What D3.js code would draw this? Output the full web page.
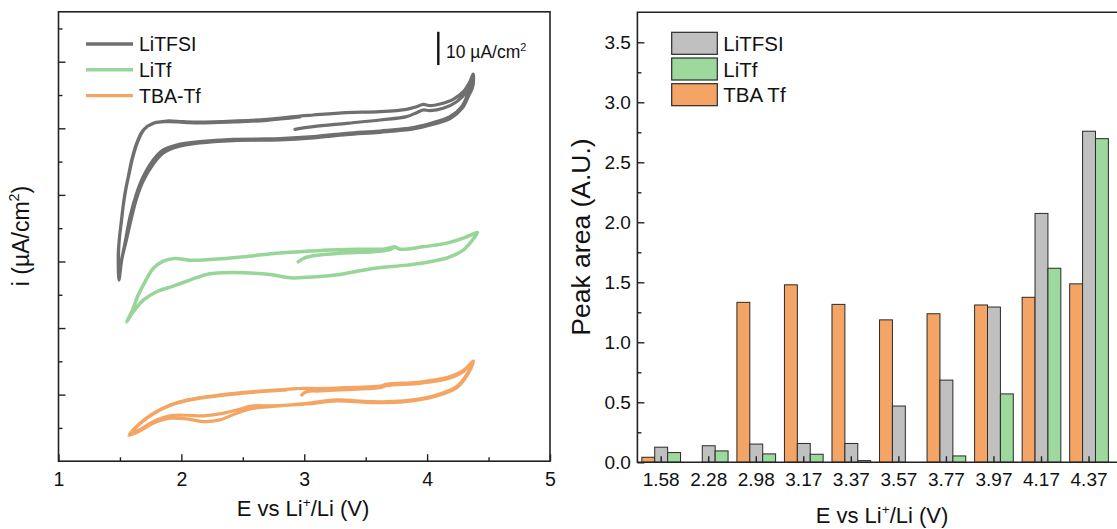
<!DOCTYPE html>
<html>
<head>
<meta charset="utf-8">
<script src="https://d3js.org/d3.v7.min.js"></script>
<style>
  body { margin: 0; background: #fff; }
  text { font-family: Arial, "Liberation Sans", sans-serif; fill: #111; }
</style>
</head>
<body>
<div id="chart-area"></div>
<script>
// ---------- data: cyclic voltammograms (E in V, i in uA/cm2, curves offset) ----------
const cvNames = ["LiTFSI", "LiTf", "TBA-Tf"]

const cvLiTFSI = [
  [2.924,99.7],[3.073,100.5],[3.345,101.5],[3.616,102.5],[3.833,103.5],[3.915,104.7],[3.968,105.5],[4.023,105.3],
  [4.131,106.0],[4.240,108.0],[4.321,111.0],[4.362,114.0],[4.378,115.5],
  [4.369,113.3],[4.334,110.5],[4.281,106.5],[4.186,103.5],[4.050,101.7],[3.887,100.2],[3.616,99.2],[3.345,98.5],
  [3.073,97.5],[2.802,96.9],[2.694,96.8],[2.422,96.7],[2.151,96.0],[1.962,95.0],[1.853,93.5],[1.771,90.5],
  [1.690,85.5],[1.636,80.5],[1.582,73.4],[1.541,65.5],[1.514,60.4],[1.492,54.4],
  [1.486,59.8],[1.487,62.9],[1.492,65.5],[1.506,70.4],[1.522,75.5],[1.541,80.5],[1.568,85.5],[1.596,90.5],
  [1.636,95.5],[1.690,99.5],[1.771,101.5],[1.880,102.2],[2.015,102.0],[2.151,101.9],[2.422,102.2],[2.694,102.7],
  [2.965,103.7],[3.073,104.0],[3.345,104.7],[3.616,105.0],[3.833,105.7],[3.915,106.5],[3.968,107.2],[4.023,106.8],
  [4.104,107.3],[4.212,108.7],[4.294,111.0],[4.348,114.0],[4.375,116.3],
  [4.372,112.6],[4.338,109.8],[4.285,106.0],[4.190,103.0],[4.050,101.2],[3.887,99.8],[3.616,98.8],[3.345,98.1],
  [3.073,97.1],[2.802,96.5],[2.422,96.3],[2.151,95.6],[1.962,94.4],[1.853,92.6],[1.771,89.3],[1.690,84.2],
  [1.636,79.0],[1.590,72.5],[1.550,66.0],[1.520,61.5],[1.497,57.0],[1.489,60.5],
  [1.490,64.0],[1.497,67.5],[1.512,72.0],[1.528,77.0],[1.548,81.6],[1.575,86.4],[1.604,91.2],[1.645,96.0],
  [1.700,99.8],[1.780,101.6],[1.880,102.0],[2.015,101.8],[2.151,101.6],[2.422,101.9],[2.694,102.4],[2.965,103.4]
]

const cvLiTf = [
  [2.951,59.9],[2.992,60.9],[3.073,61.7],[3.290,62.5],[3.561,62.9],[3.697,63.6],[3.738,64.3],[3.779,63.7],
  [3.968,64.4],[4.159,65.5],[4.294,67.0],[4.389,68.5],[4.409,68.7],
  [4.389,67.4],[4.348,65.5],[4.294,63.4],[4.186,61.4],[4.023,59.9],[3.833,58.9],[3.561,57.9],[3.290,56.1],
  [3.101,55.4],[2.884,55.1],[2.721,56.1],[2.504,56.6],[2.341,56.6],[2.206,56.1],[2.070,54.4],[1.934,52.6],
  [1.799,50.9],[1.690,48.4],[1.609,44.9],[1.555,41.9],
  [1.596,44.9],[1.649,49.9],[1.704,53.9],[1.771,57.9],[1.853,60.1],[1.948,60.9],[2.070,60.4],[2.233,60.6],
  [2.504,61.4],[2.775,62.5],[2.965,62.9],[3.155,63.4],[3.426,63.7],[3.643,63.7],[3.697,64.1],[3.738,64.4],
  [3.779,63.7],[3.968,64.4],[4.159,65.5],[4.294,67.0],[4.409,68.7]
]

const cvTBATf = [
  [2.979,19.9],[3.020,20.9],[3.128,21.1],[3.399,21.6],[3.616,22.1],[3.670,22.7],[3.941,23.4],[4.159,24.7],
  [4.294,26.9],[4.362,29.7],[4.377,30.1],
  [4.321,25.9],[4.240,22.4],[4.077,19.9],[3.806,18.1],[3.535,17.9],[3.264,18.4],[3.020,17.4],[2.721,16.4],
  [2.585,15.9],[2.450,14.4],[2.314,12.4],[2.178,11.9],[2.043,12.7],[1.907,12.9],[1.771,11.4],[1.663,9.1],[1.574,7.8],
  [1.663,11.4],[1.771,14.4],[1.907,16.9],[2.043,18.4],[2.314,19.9],[2.585,20.9],[2.857,21.6],[2.979,21.9],
  [3.128,21.8],[3.399,22.2],[3.616,22.6],[3.670,23.1],[3.941,23.8],[4.159,25.1],[4.294,27.2],[4.377,30.1],
  [4.323,25.6],[4.242,22.1],[4.077,19.6],[3.806,17.8],[3.535,17.6],[3.264,18.1],[3.020,17.2],[2.721,16.6],
  [2.585,16.6],[2.450,15.4],[2.314,14.2],[2.178,13.6],[2.043,13.8],[1.907,13.6],[1.771,11.9],[1.663,9.5],[1.578,8.0],
  [1.663,11.2],[1.771,14.2],[1.907,16.7],[2.043,18.2],[2.314,19.7],[2.585,20.7],[2.857,21.4]
]

// ---------- data: peak areas ----------
const categories = ["1.58", "2.28", "2.98", "3.17", "3.37", "3.57", "3.77", "3.97", "4.17", "4.37"]
const barSeries = ["TBA Tf", "LiTFSI", "LiTf"]
const tbaTf  = [0.042, 0, 1.333, 1.479, 1.316, 1.187, 1.238, 1.311, 1.375, 1.487]
const litfsi = [0.126, 0.138, 0.152, 0.157, 0.157, 0.469, 0.685, 1.294, 2.074, 2.759]
const litf   = [0.081, 0.095, 0.070, 0.067, 0.014, 0, 0.053, 0.570, 1.617, 2.697]
const legendOrder = ["LiTFSI", "LiTf", "TBA Tf"]

const cvColor = { "LiTFSI": "#6f6f6f", "LiTf": "#98d598", "TBA-Tf": "#f4a463" }
const barColor = { "LiTFSI": "#c0c0c0", "LiTf": "#9dd89d", "TBA Tf": "#f4a565" }

const FONT = 'Arial, "Liberation Sans", sans-serif'

const svg = d3.select("#chart-area").append("svg")
  .attr("width", 1117)
  .attr("height", 529)

// helper: text with a superscript piece
function supText(sel, before, sup, after, fs) {
  sel.append("tspan").text(before)
  sel.append("tspan").attr("font-size", fs * 0.62).attr("dy", -0.42 * fs).text(sup)
  if (after) sel.append("tspan").attr("dy", 0.42 * fs).text(after)
  return sel
}

function styleAxis(g, fs) {
  g.attr("font-size", fs).attr("font-family", FONT).attr("color", "#222")
  g.select(".domain").remove()
  g.selectAll(".tick line").attr("stroke-width", 1.4)
  g.selectAll(".tick text").attr("fill", "#111")
}

// ================= LEFT PANEL: CV =================
const L = { x0: 58.5, x1: 550, y0: 11.8, y1: 461.2 }

const xCV = d3.scaleLinear().domain([1, 5]).range([L.x0, L.x1])
const yCV = d3.scaleLinear().domain([0, 135]).range([L.y1, L.y0])

const left = svg.append("g")

// x axis major + minor
left.append("g")
  .attr("transform", `translate(0, ${L.y1})`)
  .call(d3.axisBottom(xCV).tickValues([1, 2, 3, 4, 5]).tickFormat(d3.format("d"))
    .tickSizeInner(-7).tickSizeOuter(0).tickPadding(11))
  .call(g => styleAxis(g, 19.5))
left.append("g")
  .attr("transform", `translate(0, ${L.y1})`)
  .call(d3.axisBottom(xCV).tickValues([1.5, 2.5, 3.5, 4.5]).tickFormat("")
    .tickSizeInner(-4).tickSizeOuter(0))
  .call(g => styleAxis(g, 19))

// y axis, no labels
left.append("g")
  .attr("transform", `translate(${L.x0}, 0)`)
  .call(d3.axisLeft(yCV).tickValues(d3.range(20, 121, 20)).tickFormat("")
    .tickSizeInner(-7).tickSizeOuter(0))
  .call(g => styleAxis(g, 19))
left.append("g")
  .attr("transform", `translate(${L.x0}, 0)`)
  .call(d3.axisLeft(yCV).tickValues(d3.range(10, 131, 20)).tickFormat("")
    .tickSizeInner(-4).tickSizeOuter(0))
  .call(g => styleAxis(g, 19))

// frame
left.append("rect")
  .attr("x", L.x0).attr("y", L.y0)
  .attr("width", L.x1 - L.x0).attr("height", L.y1 - L.y0)
  .attr("fill", "none").attr("stroke", "#222").attr("stroke-width", 1.6)

// curves
const cvLine = d3.line()
  .x(d => xCV(d[0]))
  .y(d => yCV(d[1]))
  .curve(d3.curveCatmullRom.alpha(0.5))

const cvData = [
  { name: "TBA-Tf", pts: cvTBATf, w: 3.2 },
  { name: "LiTf", pts: cvLiTf, w: 3.5 },
  { name: "LiTFSI", pts: cvLiTFSI, w: 3.2 }
]
left.selectAll("path.cv")
  .data(cvData)
  .enter().append("path")
    .attr("class", "cv")
    .attr("d", d => cvLine(d.pts))
    .attr("fill", "none")
    .attr("stroke", d => cvColor[d.name])
    .attr("stroke-width", d => d.w)
    .attr("stroke-linejoin", "round")
    .attr("stroke-linecap", "round")

// legend
const cvLeg = left.selectAll("g.cvleg")
  .data(cvNames)
  .enter().append("g")
    .attr("class", "cvleg")
    .attr("transform", (d, i) => `translate(86, ${44 + i * 25.8})`)
cvLeg.append("line")
  .attr("x1", 0).attr("x2", 47)
  .attr("stroke", d => cvColor[d]).attr("stroke-width", 3.4)
cvLeg.append("text")
  .attr("x", 53).attr("y", 7.4)
  .attr("font-size", 19.5)
  .text(d => d)

// scale bar 10 uA/cm2
left.append("line")
  .attr("x1", 438.3).attr("x2", 438.3)
  .attr("y1", yCV(119)).attr("y2", yCV(129))
  .attr("stroke", "#111").attr("stroke-width", 2.4)
supText(left.append("text").attr("x", 446).attr("y", 58.3).attr("font-size", 17.5),
  "10 \u00b5A/cm", "2", null, 17.5)

// titles
supText(left.append("text").attr("x", 303).attr("y", 516)
  .attr("text-anchor", "middle").attr("font-size", 22),
  "E vs Li", "+", "/Li (V)", 22)
supText(left.append("text")
  .attr("transform", "rotate(-90)")
  .attr("x", -236).attr("y", 29)
  .attr("text-anchor", "middle").attr("font-size", 23),
  "i (\u00b5A/cm", "2", ")", 23)

// ================= RIGHT PANEL: bars =================
const R = { x0: 637.4, x1: 1112.8, y0: 12.3, y1: 462.3 }

const x0 = d3.scaleBand().domain(categories).range([R.x0, R.x1])
  .paddingInner(0.186).paddingOuter(0.093)
const x1 = d3.scaleBand().domain(barSeries).range([0, x0.bandwidth()])
const yBar = d3.scaleLinear().domain([0, 3.75]).range([R.y1, R.y0])

const right = svg.append("g")

// bars
const rows = categories.map((c, i) => ({
  cat: c,
  vals: [
    { s: "TBA Tf", v: tbaTf[i] },
    { s: "LiTFSI", v: litfsi[i] },
    { s: "LiTf", v: litf[i] }
  ].filter(d => d.v > 0)
}))

right.selectAll("g.grp")
  .data(rows)
  .enter().append("g")
    .attr("class", "grp")
    .attr("transform", d => `translate(${x0(d.cat)}, 0)`)
  .selectAll("rect")
  .data(d => d.vals)
  .enter().append("rect")
    .attr("x", d => x1(d.s))
    .attr("y", d => yBar(d.v))
    .attr("width", x1.bandwidth())
    .attr("height", d => yBar(0) - yBar(d.v))
    .attr("fill", d => barColor[d.s])
    .attr("stroke", "#2a2a2a")
    .attr("stroke-width", 1)

// y axis
right.append("g")
  .attr("transform", `translate(${R.x0}, 0)`)
  .call(d3.axisLeft(yBar).tickValues(d3.range(0, 3.51, 0.5)).tickFormat(d3.format(".1f"))
    .tickSizeInner(-7).tickSizeOuter(0).tickPadding(6.5))
  .call(g => styleAxis(g, 19))
right.append("g")
  .attr("transform", `translate(${R.x0}, 0)`)
  .call(d3.axisLeft(yBar).tickValues(d3.range(0.25, 3.6, 0.5)).tickFormat("")
    .tickSizeInner(-4).tickSizeOuter(0))
  .call(g => styleAxis(g, 19))

// x axis
right.append("g")
  .attr("transform", `translate(0, ${R.y1})`)
  .call(d3.axisBottom(x0).tickSizeInner(-6).tickSizeOuter(0).tickPadding(10))
  .call(g => styleAxis(g, 19))

// frame (right edge falls outside the picture)
right.append("path")
  .attr("d", `M1130,${R.y0}H${R.x0}V${R.y1}H1130`)
  .attr("fill", "none").attr("stroke", "#222").attr("stroke-width", 1.6)

// legend
const barLeg = right.selectAll("g.barleg")
  .data(legendOrder)
  .enter().append("g")
    .attr("class", "barleg")
    .attr("transform", (d, i) => `translate(671.7, ${32.3 + i * 25.7})`)
barLeg.append("rect")
  .attr("width", 45.6).attr("height", 22)
  .attr("fill", d => barColor[d])
  .attr("stroke", "#2a2a2a").attr("stroke-width", 1.2)
barLeg.append("text")
  .attr("x", 51.6).attr("y", 18.6)
  .attr("font-size", 20.5)
  .text(d => d)

// titles
supText(right.append("text").attr("x", 882).attr("y", 523)
  .attr("text-anchor", "middle").attr("font-size", 22),
  "E vs Li", "+", "/Li (V)", 22)
right.append("text")
  .attr("transform", "rotate(-90)")
  .attr("x", -237).attr("y", 590)
  .attr("text-anchor", "middle").attr("font-size", 26.5)
  .text("Peak area (A.U.)")
</script>
</body>
</html>
